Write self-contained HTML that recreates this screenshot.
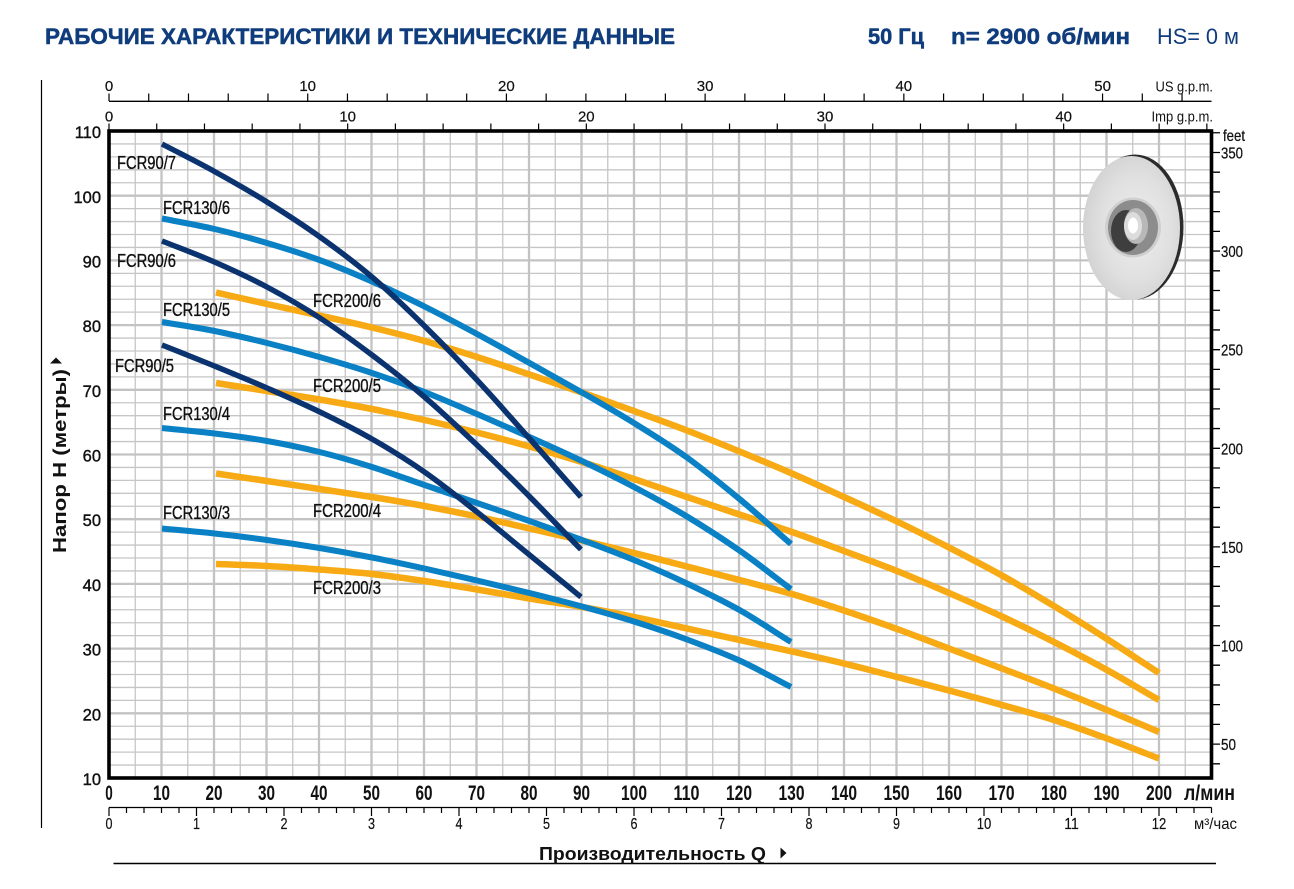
<!DOCTYPE html>
<html><head><meta charset="utf-8"><style>
html,body{margin:0;padding:0;background:#fff;}
svg{display:block;}
text{font-family:"Liberation Sans","DejaVu Sans",sans-serif;}
</style></head><body>
<svg width="1294" height="889" viewBox="0 0 1294 889" xmlns="http://www.w3.org/2000/svg">
<defs>
<radialGradient id="disc" cx="0.55" cy="0.5" r="0.6">
<stop offset="0" stop-color="#eeeeee"/><stop offset="0.6" stop-color="#e0e0e0"/><stop offset="1" stop-color="#cfcfcf"/>
</radialGradient>
</defs>
<rect width="1294" height="889" fill="#fff"/>

<!-- Header -->
<g fill="#0f3c7c" stroke="#0f3c7c" stroke-width="0.5">
<text x="45" y="44" font-size="22" font-weight="bold" textLength="630" lengthAdjust="spacingAndGlyphs">РАБОЧИЕ ХАРАКТЕРИСТИКИ И ТЕХНИЧЕСКИЕ ДАННЫЕ</text>
<text x="868" y="44" font-size="22" font-weight="bold" textLength="56" lengthAdjust="spacingAndGlyphs">50 Гц</text>
<text x="951" y="44" font-size="22" font-weight="bold" textLength="179" lengthAdjust="spacingAndGlyphs">n= 2900 об/мин</text>
</g>
<text x="1157" y="44" font-size="22" fill="#0f3c7c" textLength="82" lengthAdjust="spacingAndGlyphs">HS= 0 м</text>

<!-- outer lines -->
<line x1="41.5" y1="80" x2="41.5" y2="828" stroke="#000" stroke-width="1.2"/>
<line x1="113.5" y1="863.5" x2="1216" y2="863.5" stroke="#000" stroke-width="1.4"/>

<!-- grid minor -->
<path fill="none" stroke="#c6c6c6" stroke-width="1.3" d="M135.25 131V778M187.75 131V778M240.25 131V778M292.75 131V778M345.25 131V778M397.75 131V778M450.25 131V778M502.75 131V778M555.25 131V778M607.75 131V778M660.25 131V778M712.75 131V778M765.25 131V778M817.75 131V778M870.25 131V778M922.75 131V778M975.25 131V778M1027.75 131V778M1080.25 131V778M1132.75 131V778M1185.25 131V778
M109 765.06H1211.5M109 752.12H1211.5M109 739.18H1211.5M109 726.24H1211.5
M109 700.36H1211.5M109 687.42H1211.5M109 674.48H1211.5M109 661.54H1211.5
M109 635.66H1211.5M109 622.72H1211.5M109 609.78H1211.5M109 596.84H1211.5
M109 570.96H1211.5M109 558.02H1211.5M109 545.08H1211.5M109 532.14H1211.5
M109 506.26H1211.5M109 493.32H1211.5M109 480.38H1211.5M109 467.44H1211.5
M109 441.56H1211.5M109 428.62H1211.5M109 415.68H1211.5M109 402.74H1211.5
M109 376.86H1211.5M109 363.92H1211.5M109 350.98H1211.5M109 338.04H1211.5
M109 312.16H1211.5M109 299.22H1211.5M109 286.28H1211.5M109 273.34H1211.5
M109 247.46H1211.5M109 234.52H1211.5M109 221.58H1211.5M109 208.64H1211.5
M109 182.76H1211.5M109 169.82H1211.5M109 156.88H1211.5M109 143.94H1211.5"/>
<!-- grid major -->
<path fill="none" stroke="#c3c3c3" stroke-width="2.3" d="M161.5 131V778M214 131V778M266.5 131V778M319 131V778M371.5 131V778M424 131V778M476.5 131V778M529 131V778M581.5 131V778M634 131V778M686.5 131V778M739 131V778M791.5 131V778M844 131V778M896.5 131V778M949 131V778M1001.5 131V778M1054 131V778M1106.5 131V778M1159 131V778
M109 713.3H1211.5M109 648.6H1211.5M109 583.9H1211.5M109 519.2H1211.5M109 454.5H1211.5M109 389.8H1211.5M109 325.1H1211.5M109 260.4H1211.5M109 195.7H1211.5"/>

<!-- impeller -->
<g>
<ellipse cx="1135" cy="227" rx="48.5" ry="72.5" fill="#2b2b2b"/>
<ellipse cx="1131.5" cy="228" rx="48.5" ry="72" fill="url(#disc)"/>
<ellipse cx="1133" cy="227.5" rx="28" ry="30" fill="#cfcfcf"/>
<ellipse cx="1133" cy="227.5" rx="25" ry="27.5" fill="#8c8c8c"/>
<ellipse cx="1126" cy="231" rx="15" ry="21" fill="#3e3e3e"/>
<ellipse cx="1136" cy="226" rx="12" ry="18" fill="#b8b8b8"/>
<ellipse cx="1133" cy="226" rx="9" ry="14" fill="#dcdcdc"/>
<ellipse cx="1133" cy="225.5" rx="5" ry="8" fill="#ffffff"/>
</g>

<!-- frame -->
<rect x="109" y="131" width="1102.5" height="647" fill="none" stroke="#000" stroke-width="3.6"/>

<!-- curves orange -->
<g fill="none" stroke="#f7aa14" stroke-width="6.5" stroke-linejoin="round" stroke-linecap="butt">
<path d="M216,292.5 C233,296.33 250,300.17 267,304 S302,311.58 319.5,315.5 S354.5,323.25 372,327.5 S407,336.08 424.5,341 S459.5,351.42 477,357 S512,368.58 529.5,374.5 S564.5,386.42 582,392.5 S616.5,404.67 634,411 S669.5,423.75 687,430.5 S722,444.33 739.5,451.5 S774.5,465.92 792,473.5 S826.5,489 844,497 S879.5,513.08 897,521.5 S931.5,538.5 949,547.5 S984.5,565.75 1002,575.5 S1036.5,595.42 1054,606 S1089.5,627.83 1107,639 S1141.5,661.67 1159,673"/>
<path d="M216,383 C233,385.67 250,388.25 267,391 S302,396.5 319.5,399.5 S354.5,405.58 372,409 S407,416.08 424.5,420 S459.5,428.08 477,432.5 S512,441.58 529.5,446.5 S564.5,456.58 582,462 S616.5,473.17 634,479 S669.5,491.08 687,497 S722,508.67 739.5,514.5 S774.5,525.92 792,532 S826.5,544.5 844,551 S879.5,564 897,571 S931.5,585.42 949,593 S984.5,608.33 1002,616.5 S1036.5,633.08 1054,642 S1089.5,660.33 1107,670 S1141.5,690 1159,700"/>
<path d="M216,473.5 C233,476 250,478.42 267,481 S302,486.33 319.5,489 S354.5,494.17 372,497 S407,502.75 424.5,506 S459.5,512.75 477,516.5 S512,524.5 529.5,528.5 S564.5,536.42 582,540.5 S616.5,548.67 634,553 S669.5,562 687,566.5 S722,575.42 739.5,580 S774.5,588.92 792,594 S826.5,604.67 844,610.5 S879.5,622.67 897,629 S931.5,641.92 949,648.5 S984.5,661.83 1002,668.5 S1036.5,681.58 1054,688.5 S1089.5,702.75 1107,710 S1141.5,724.67 1159,732"/>
<path d="M216,564 C233,564.67 250,565.08 267,566 S302,568.17 319.5,569.5 S354.5,572.08 372,574 S407,578.42 424.5,581 S459.5,586.58 477,589.5 S512,595.58 529.5,598.5 S564.5,603.92 582,607 S616.5,613.42 634,617 S669.5,624.67 687,628.5 S722,636.17 739.5,640 S774.5,647.58 792,651.5 S826.5,659.25 844,663.5 S879.5,672.5 897,677 S931.5,685.83 949,690.5 S984.5,700.08 1002,705 S1036.5,714.42 1054,720 S1089.5,732.08 1107,738.5 S1141.5,751.83 1159,758.5"/>
</g>
<!-- curves blue -->
<g fill="none" stroke="#0a80c5" stroke-width="6" stroke-linejoin="round" stroke-linecap="butt">
<path d="M162,218.5 C179.5,222 197,224.92 214.5,229 S249.5,237.83 267,243 S302,253.58 319.5,260 S354.5,273.75 372,281.5 S407,297.75 424.5,306.5 S459.5,324.58 477,334 S512,353.25 529.5,363 S564.5,382.5 582,392.5 S616.5,412.17 634,423 S669.5,444.83 687,457.5 S722,484.58 739.5,499 S773.5,529 791,544"/>
<path d="M162,322 C179.5,325 197,327.5 214.5,331 S249.5,338.67 267,343 S302,352 319.5,357 S354.5,367.17 372,373 S407,385.17 424.5,392 S459.5,406.5 477,414 S512,429.17 529.5,437 S564.5,452.67 582,461 S616.5,477.75 634,487 S669.5,505.92 687,516.5 S722,538.42 739.5,550.5 S773.5,576.17 791,589"/>
<path d="M162,428 C179.5,429.83 197,431.33 214.5,433.5 S249.5,437.92 267,441 S302,447.67 319.5,452 S354.5,461.5 372,467 S407,479 424.5,485 S459.5,497 477,503 S512,514.83 529.5,521 S564.5,533.5 582,540 S616.5,552.75 634,560 S669.5,575.17 687,583.5 S722,600.25 739.5,610 S773.5,631.33 791,642"/>
<path d="M162,528.5 C179.5,530.17 197,531.58 214.5,533.5 S249.5,537.58 267,540 S302,545.08 319.5,548 S354.5,554.08 372,557.5 S407,564.67 424.5,568.5 S459.5,576.42 477,580.5 S512,588.67 529.5,593 S564.5,601.75 582,606.5 S616.5,616 634,621.5 S669.5,633 687,639.5 S722,652.58 739.5,660.5 S773.5,678.17 791,687"/>
</g>
<!-- curves dark -->
<g fill="none" stroke="#0a3370" stroke-width="5.5" stroke-linejoin="round" stroke-linecap="butt">
<path d="M162,144 C179.5,153.17 197,161.83 214.5,171.5 S249.5,191.08 267,202 S302.5,224.5 320,237 S354.5,262.17 372,277 S407,308.83 424.5,326 S459.5,361.33 477,380 S511.5,418.5 529,438 S563.5,477.33 581,497"/>
<path d="M162,241 C179.5,248 197,254.33 214.5,262 S249.5,277.67 267,287 S302.5,306.67 320,318 S354.5,341.83 372,355 S407,382 424.5,397 S459.5,428.5 477,445 S511.5,478.58 529,496 S563.5,531.67 581,549.5"/>
<path d="M162,345 C179.5,352 197,358.83 214.5,366 S249.5,380.33 267,388 S302.5,403.5 320,412 S354.5,429 372,439 S407,459.83 424.5,472 S459.5,498.25 477,512 S511.5,540.33 529,554.5 S563.5,582.83 581,597"/>
</g>

<!-- curve labels -->
<g font-size="18.5" fill="#111" stroke="#111" stroke-width="0.35">
<text x="117" y="169" textLength="59" lengthAdjust="spacingAndGlyphs">FCR90/7</text>
<text x="163" y="214" textLength="67" lengthAdjust="spacingAndGlyphs">FCR130/6</text>
<text x="117" y="267" textLength="59" lengthAdjust="spacingAndGlyphs">FCR90/6</text>
<text x="163" y="316" textLength="67" lengthAdjust="spacingAndGlyphs">FCR130/5</text>
<text x="115" y="372" textLength="59" lengthAdjust="spacingAndGlyphs">FCR90/5</text>
<text x="163" y="420" textLength="67" lengthAdjust="spacingAndGlyphs">FCR130/4</text>
<text x="163" y="519" textLength="67" lengthAdjust="spacingAndGlyphs">FCR130/3</text>
<text x="313" y="307" textLength="68" lengthAdjust="spacingAndGlyphs">FCR200/6</text>
<text x="313" y="392" textLength="68" lengthAdjust="spacingAndGlyphs">FCR200/5</text>
<text x="313" y="517" textLength="68" lengthAdjust="spacingAndGlyphs">FCR200/4</text>
<text x="313" y="594" textLength="68" lengthAdjust="spacingAndGlyphs">FCR200/3</text>
</g>

<!-- left y labels -->
<g font-size="16.5" fill="#111" stroke="#111" stroke-width="0.4" text-anchor="end">
<text x="101" y="138">110</text>
<text x="101" y="203">100</text>
<text x="101" y="267.5">90</text>
<text x="101" y="332">80</text>
<text x="101" y="397">70</text>
<text x="101" y="461.5">60</text>
<text x="101" y="526">50</text>
<text x="101" y="591">40</text>
<text x="101" y="655.5">30</text>
<text x="101" y="720.5">20</text>
<text x="101" y="785">10</text>
</g>

<!-- y title -->
<text transform="translate(66,553) rotate(-90)" font-size="18" font-weight="bold" fill="#111" textLength="184" lengthAdjust="spacingAndGlyphs">Напор H (метры)</text>
<polygon points="50,363.5 62,363.5 56,357.5" fill="#111"/>

<!-- right feet axis -->
<path fill="none" stroke="#000" stroke-width="1.3" d="M1211.5 763.82h8.5M1211.5 744.1h8.5M1211.5 724.38h8.5M1211.5 704.66h8.5M1211.5 684.94h8.5M1211.5 665.21h8.5M1211.5 645.49h8.5M1211.5 625.77h8.5M1211.5 606.05h8.5M1211.5 586.33h8.5M1211.5 566.61h8.5M1211.5 546.89h8.5M1211.5 527.17h8.5M1211.5 507.45h8.5M1211.5 487.73h8.5M1211.5 468.01h8.5M1211.5 448.29h8.5M1211.5 428.57h8.5M1211.5 408.85h8.5M1211.5 389.13h8.5M1211.5 369.41h8.5M1211.5 349.69h8.5M1211.5 329.96h8.5M1211.5 310.24h8.5M1211.5 290.52h8.5M1211.5 270.8h8.5M1211.5 251.08h8.5M1211.5 231.36h8.5M1211.5 211.64h8.5M1211.5 191.92h8.5M1211.5 172.2h8.5M1211.5 152.48h8.5M1211.5 132.76h8.5"/>
<g font-size="16" fill="#111" stroke="#111" stroke-width="0.25">
<text x="1221" y="750" textLength="15" lengthAdjust="spacingAndGlyphs">50</text>
<text x="1221" y="651.5" textLength="22" lengthAdjust="spacingAndGlyphs">100</text>
<text x="1221" y="553" textLength="22" lengthAdjust="spacingAndGlyphs">150</text>
<text x="1221" y="454.3" textLength="22" lengthAdjust="spacingAndGlyphs">200</text>
<text x="1221" y="355.7" textLength="22" lengthAdjust="spacingAndGlyphs">250</text>
<text x="1221" y="257" textLength="22" lengthAdjust="spacingAndGlyphs">300</text>
<text x="1221" y="158.5" textLength="22" lengthAdjust="spacingAndGlyphs">350</text>
<text x="1223" y="141" textLength="22" lengthAdjust="spacingAndGlyphs">feet</text>
</g>

<!-- top US gpm axis -->
<line x1="109" y1="101.3" x2="1211.5" y2="101.3" stroke="#000" stroke-width="1.3"/>
<path fill="none" stroke="#000" stroke-width="1.2" d="M109 93.5V101M148.74 93.5V101M188.48 93.5V101M228.23 93.5V101M267.97 93.5V101M307.71 93.5V101M347.45 93.5V101M387.19 93.5V101M426.94 93.5V101M466.68 93.5V101M506.42 93.5V101M546.16 93.5V101M585.9 93.5V101M625.65 93.5V101M665.39 93.5V101M705.13 93.5V101M744.87 93.5V101M784.61 93.5V101M824.36 93.5V101M864.1 93.5V101M903.84 93.5V101M943.58 93.5V101M983.32 93.5V101M1023.07 93.5V101M1062.81 93.5V101M1102.55 93.5V101M1142.29 93.5V101M1182.03 93.5V101"/>
<g font-size="15" fill="#111" stroke="#111" stroke-width="0.2" text-anchor="middle">
<text x="109" y="91">0</text>
<text x="307.7" y="91">10</text>
<text x="506.4" y="91">20</text>
<text x="705.1" y="91">30</text>
<text x="903.8" y="91">40</text>
<text x="1102.6" y="91">50</text>
</g>
<text x="1155.5" y="91.5" font-size="15" fill="#111" textLength="57.5" lengthAdjust="spacingAndGlyphs">US g.p.m.</text>

<!-- Imp gpm axis -->
<path fill="none" stroke="#000" stroke-width="1.2" d="M109 123.5V131M156.73 123.5V131M204.47 123.5V131M252.2 123.5V131M299.93 123.5V131M347.67 123.5V131M395.4 123.5V131M443.13 123.5V131M490.86 123.5V131M538.6 123.5V131M586.33 123.5V131M634.06 123.5V131M681.8 123.5V131M729.53 123.5V131M777.26 123.5V131M825 123.5V131M872.73 123.5V131M920.46 123.5V131M968.19 123.5V131M1015.93 123.5V131M1063.66 123.5V131M1111.39 123.5V131M1159.13 123.5V131M1206.86 123.5V131"/>
<g font-size="15" fill="#111" stroke="#111" stroke-width="0.2" text-anchor="middle">
<text x="109" y="121.5">0</text>
<text x="347.7" y="121.5">10</text>
<text x="586.3" y="121.5">20</text>
<text x="825" y="121.5">30</text>
<text x="1063.7" y="121.5">40</text>
</g>
<text x="1151.5" y="121.5" font-size="15" fill="#111" textLength="61.5" lengthAdjust="spacingAndGlyphs">Imp g.p.m.</text>

<!-- bottom l/min labels -->
<g font-size="21" font-weight="bold" fill="#111" text-anchor="middle">
<text x="109" y="800" textLength="7.5" lengthAdjust="spacingAndGlyphs">0</text>
<text x="161.5" y="800" textLength="17" lengthAdjust="spacingAndGlyphs">10</text>
<text x="214" y="800" textLength="17" lengthAdjust="spacingAndGlyphs">20</text>
<text x="266.5" y="800" textLength="17" lengthAdjust="spacingAndGlyphs">30</text>
<text x="319" y="800" textLength="17" lengthAdjust="spacingAndGlyphs">40</text>
<text x="371.5" y="800" textLength="17" lengthAdjust="spacingAndGlyphs">50</text>
<text x="424" y="800" textLength="17" lengthAdjust="spacingAndGlyphs">60</text>
<text x="476.5" y="800" textLength="17" lengthAdjust="spacingAndGlyphs">70</text>
<text x="529" y="800" textLength="17" lengthAdjust="spacingAndGlyphs">80</text>
<text x="581.5" y="800" textLength="17" lengthAdjust="spacingAndGlyphs">90</text>
<text x="634" y="800" textLength="26" lengthAdjust="spacingAndGlyphs">100</text>
<text x="686.5" y="800" textLength="26" lengthAdjust="spacingAndGlyphs">110</text>
<text x="739" y="800" textLength="26" lengthAdjust="spacingAndGlyphs">120</text>
<text x="791.5" y="800" textLength="26" lengthAdjust="spacingAndGlyphs">130</text>
<text x="844" y="800" textLength="26" lengthAdjust="spacingAndGlyphs">140</text>
<text x="896.5" y="800" textLength="26" lengthAdjust="spacingAndGlyphs">150</text>
<text x="949" y="800" textLength="26" lengthAdjust="spacingAndGlyphs">160</text>
<text x="1001.5" y="800" textLength="26" lengthAdjust="spacingAndGlyphs">170</text>
<text x="1054" y="800" textLength="26" lengthAdjust="spacingAndGlyphs">180</text>
<text x="1106.5" y="800" textLength="26" lengthAdjust="spacingAndGlyphs">190</text>
<text x="1159" y="800" textLength="26" lengthAdjust="spacingAndGlyphs">200</text>
</g>
<text x="1184" y="800" font-size="21" font-weight="bold" fill="#111" textLength="51" lengthAdjust="spacingAndGlyphs">л/мин</text>

<!-- m3/h axis -->
<line x1="109" y1="807.5" x2="1211.5" y2="807.5" stroke="#000" stroke-width="1.3"/>
<path fill="none" stroke="#000" stroke-width="1.2" d="M109 807.5v8.5M196.5 807.5v8.5M284 807.5v8.5M371.5 807.5v8.5M459 807.5v8.5M546.5 807.5v8.5M634 807.5v8.5M721.5 807.5v8.5M809 807.5v8.5M896.5 807.5v8.5M984 807.5v8.5M1071.5 807.5v8.5M1159 807.5v8.5
M126.5 807.5v5.5M144 807.5v5.5M161.5 807.5v5.5M179 807.5v5.5M214 807.5v5.5M231.5 807.5v5.5M249 807.5v5.5M266.5 807.5v5.5M301.5 807.5v5.5M319 807.5v5.5M336.5 807.5v5.5M354 807.5v5.5M389 807.5v5.5M406.5 807.5v5.5M424 807.5v5.5M441.5 807.5v5.5M476.5 807.5v5.5M494 807.5v5.5M511.5 807.5v5.5M529 807.5v5.5M564 807.5v5.5M581.5 807.5v5.5M599 807.5v5.5M616.5 807.5v5.5M651.5 807.5v5.5M669 807.5v5.5M686.5 807.5v5.5M704 807.5v5.5M739 807.5v5.5M756.5 807.5v5.5M774 807.5v5.5M791.5 807.5v5.5M826.5 807.5v5.5M844 807.5v5.5M861.5 807.5v5.5M879 807.5v5.5M914 807.5v5.5M931.5 807.5v5.5M949 807.5v5.5M966.5 807.5v5.5M1001.5 807.5v5.5M1019 807.5v5.5M1036.5 807.5v5.5M1054 807.5v5.5M1089 807.5v5.5M1106.5 807.5v5.5M1124 807.5v5.5M1141.5 807.5v5.5M1176.5 807.5v5.5M1194 807.5v5.5M1211.5 807.5v5.5"/>
<g font-size="16" fill="#111" stroke="#111" stroke-width="0.2" text-anchor="middle">
<text x="109" y="829" textLength="7" lengthAdjust="spacingAndGlyphs">0</text>
<text x="196.5" y="829" textLength="7" lengthAdjust="spacingAndGlyphs">1</text>
<text x="284" y="829" textLength="7" lengthAdjust="spacingAndGlyphs">2</text>
<text x="371.5" y="829" textLength="7" lengthAdjust="spacingAndGlyphs">3</text>
<text x="459" y="829" textLength="7" lengthAdjust="spacingAndGlyphs">4</text>
<text x="546.5" y="829" textLength="7" lengthAdjust="spacingAndGlyphs">5</text>
<text x="634" y="829" textLength="7" lengthAdjust="spacingAndGlyphs">6</text>
<text x="721.5" y="829" textLength="7" lengthAdjust="spacingAndGlyphs">7</text>
<text x="809" y="829" textLength="7" lengthAdjust="spacingAndGlyphs">8</text>
<text x="896.5" y="829" textLength="7" lengthAdjust="spacingAndGlyphs">9</text>
<text x="984" y="829" textLength="14.5" lengthAdjust="spacingAndGlyphs">10</text>
<text x="1071.5" y="829" textLength="14.5" lengthAdjust="spacingAndGlyphs">11</text>
<text x="1159" y="829" textLength="14.5" lengthAdjust="spacingAndGlyphs">12</text>
</g>
<text x="1194" y="829" font-size="15.5" fill="#111" textLength="43" lengthAdjust="spacingAndGlyphs">м³/час</text>

<!-- x title -->
<text x="539" y="860" font-size="18" font-weight="bold" fill="#111" textLength="227" lengthAdjust="spacingAndGlyphs">Производительность Q</text>
<polygon points="780.5,847.5 780.5,858.5 786.5,853" fill="#111"/>
</svg>
</body></html>
